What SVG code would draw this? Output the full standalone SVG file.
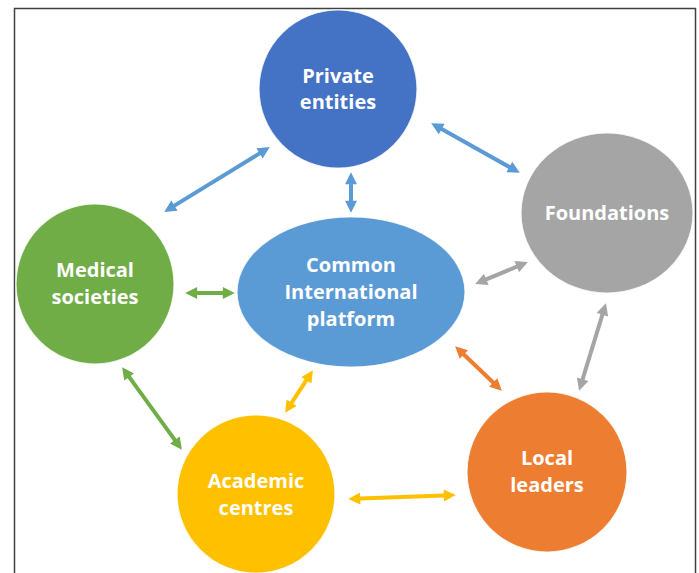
<svg xmlns="http://www.w3.org/2000/svg" width="699" height="573" viewBox="0 0 699 573">
<style>
.node{stroke:#ffffff;stroke-width:1.2;stroke-opacity:0.8}
.lbl{font-family:"Open Sans",Lato,"Liberation Sans",sans-serif;font-weight:bold;font-size:20px;fill:#ffffff;text-anchor:middle}
.ln{stroke-width:4;fill:none}
.blue{stroke:#5B9BD5;marker-start:url(#mBlue);marker-end:url(#mBlue)}
.gray{stroke:#A5A5A5;marker-start:url(#mGray);marker-end:url(#mGray)}
.orange{stroke:#ED7D31;marker-start:url(#mOrange);marker-end:url(#mOrange)}
.green{stroke:#70AD47;marker-start:url(#mGreen);marker-end:url(#mGreen)}
.yellow{stroke:#FFC000;marker-start:url(#mYellow);marker-end:url(#mYellow)}
</style>
<defs>
<marker id="mBlue" viewBox="0 0 10 10" refX="6" refY="5" markerWidth="13" markerHeight="12" markerUnits="userSpaceOnUse" orient="auto-start-reverse"><path d="M0,0 L10,5 L0,10 z" fill="#5B9BD5"/></marker>
<marker id="mGray" viewBox="0 0 10 10" refX="6" refY="5" markerWidth="13" markerHeight="12" markerUnits="userSpaceOnUse" orient="auto-start-reverse"><path d="M0,0 L10,5 L0,10 z" fill="#A5A5A5"/></marker>
<marker id="mOrange" viewBox="0 0 10 10" refX="6" refY="5" markerWidth="13" markerHeight="12" markerUnits="userSpaceOnUse" orient="auto-start-reverse"><path d="M0,0 L10,5 L0,10 z" fill="#ED7D31"/></marker>
<marker id="mGreen" viewBox="0 0 10 10" refX="6" refY="5" markerWidth="13" markerHeight="12" markerUnits="userSpaceOnUse" orient="auto-start-reverse"><path d="M0,0 L10,5 L0,10 z" fill="#70AD47"/></marker>
<marker id="mYellow" viewBox="0 0 10 10" refX="6" refY="5" markerWidth="13" markerHeight="12" markerUnits="userSpaceOnUse" orient="auto-start-reverse"><path d="M0,0 L10,5 L0,10 z" fill="#FFC000"/></marker>
</defs>
<rect x="0" y="0" width="699" height="573" fill="#ffffff"/>
<path d="M14.5,580 L14.5,8.5 L695.5,8.5 L695.5,580" fill="none" stroke="#404040" stroke-width="1.5"/>
<g id="connectors">
<line class="ln blue" x1="168.3" y1="209.4" x2="265.7" y2="149.6"/>
<line class="ln blue" x1="435.4" y1="125.5" x2="515.6" y2="170.5"/>
<line class="ln blue" x1="351" y1="177" x2="351" y2="208"/>
<line class="ln gray" x1="479.6" y1="282.1" x2="523.4" y2="263.9"/>
<line class="ln gray" x1="604.5" y1="307.8" x2="580.5" y2="386.2"/>
<line class="ln orange" x1="458.6" y1="349.5" x2="498.4" y2="387.5"/>
<line class="ln green" x1="190" y1="293" x2="230" y2="293"/>
<line class="ln green" x1="124.9" y1="371.1" x2="179.1" y2="445.9"/>
<line class="ln yellow" x1="287.7" y1="408.8" x2="310.3" y2="374.2"/>
<line class="ln yellow" x1="353" y1="498.8" x2="451" y2="495.2"/>
</g>
<g id="private-entities">
<ellipse class="node" cx="338" cy="89" rx="79" ry="79" fill="#4472C4"/>
<text class="lbl" x="338" y="83">Private</text>
<text class="lbl" x="338" y="109">entities</text>
</g>
<g id="foundations">
<ellipse class="node" cx="607" cy="213" rx="86" ry="80" fill="#A5A5A5"/>
<text class="lbl" x="607" y="220">Foundations</text>
</g>
<g id="common-platform">
<ellipse class="node" cx="351" cy="292" rx="114" ry="75" fill="#5B9BD5"/>
<text class="lbl" x="351" y="272">Common</text>
<text class="lbl" x="351" y="299">International</text>
<text class="lbl" x="351" y="326">platform</text>
</g>
<g id="medical-societies">
<ellipse class="node" cx="95" cy="284" rx="79" ry="80" fill="#70AD47"/>
<text class="lbl" x="95" y="277">Medical</text>
<text class="lbl" x="95" y="304">societies</text>
</g>
<g id="academic-centres">
<ellipse class="node" cx="256" cy="494" rx="79" ry="79" fill="#FFC000"/>
<text class="lbl" x="256" y="488">Academic</text>
<text class="lbl" x="256" y="515">centres</text>
</g>
<g id="local-leaders">
<ellipse class="node" cx="547" cy="472" rx="80" ry="80" fill="#ED7D31"/>
<text class="lbl" x="547" y="465">Local</text>
<text class="lbl" x="547" y="492">leaders</text>
</g>
</svg>
